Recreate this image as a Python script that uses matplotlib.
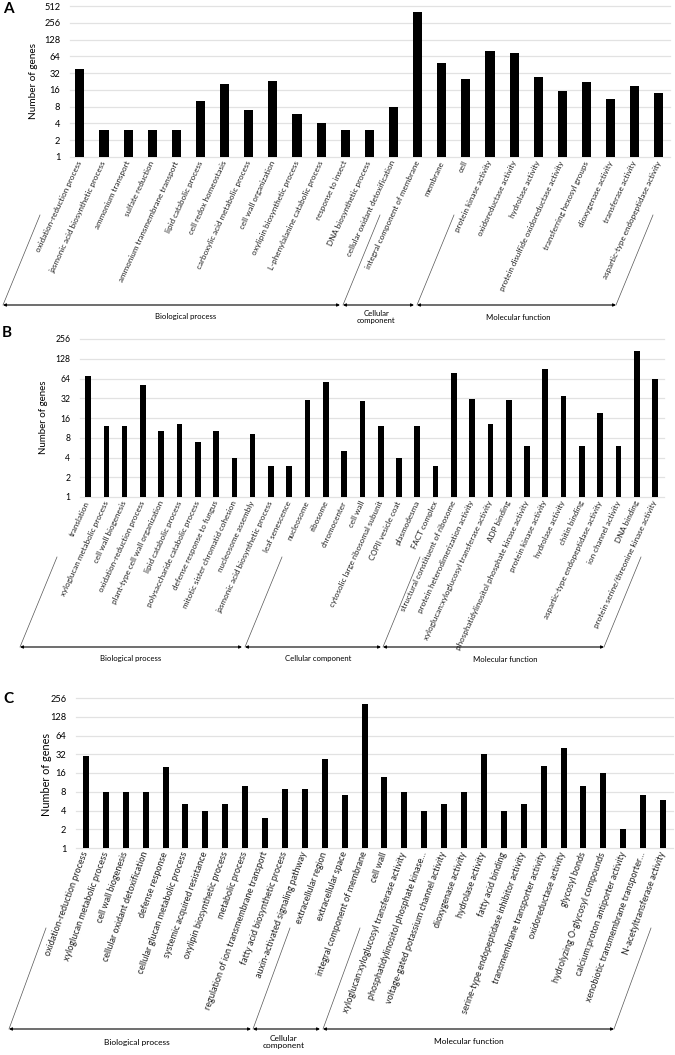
import matplotlib.pyplot as plt
import numpy as np

plt.rcParams['font.family'] = ['Lato', 'DejaVu Sans']

W, H = 675, 1055

# ---- panel A ----
labels_a = ['oxidation-reduction process', 'jasmonic acid biosynthetic process', 'ammonium transport',
            'sulfate reduction', 'ammonium transmembrane transport', 'lipid catabolic process',
            'cell redox homeostasis', 'carboxylic acid metabolic process', 'cell wall organization',
            'oxylipin biosynthetic process', 'L-phenylalanine catabolic process', 'response to insect',
            'DNA biosynthetic process', 'cellular oxidant detoxification', 'integral component of membrane',
            'membrane', 'cell', 'protein kinase activity', 'oxidoreductase activity', 'hydrolase activity',
            'protein disulfide oxidoreductase activity', 'transferring hexosyl groups', 'dioxygenase activity',
            'transferase activity', 'aspartic-type endopeptidase activity']
values_a = [38, 3, 3, 3, 3, 10, 20, 7, 23, 6, 4, 3, 3, 8, 404, 49, 25, 79, 74, 27, 15, 22, 11, 19, 14]
groups_a = ['Biological process', 'Cellular\ncomponent', 'Molecular function']
group_sizes_a = [13, 2, 10]

# ---- panel B ----
labels_b = ['translation', 'xyloglucan metabolic process', 'cell wall biogenesis', 'oxidation-reduction process',
            'plant-type cell wall organization', 'lipid catabolic process', 'polysaccharide catabolic process',
            'defense response to fungus', 'mitotic sister chromatid cohesion', 'nucleosome assembly',
            'jasmonic acid biosynthetic process', 'leaf senescence', 'nucleosome', 'ribosome', 'chromocenter',
            'cell wall', 'cytosolic large ribosomal subunit', 'COPII vesicle coat', 'plasmodesma', 'FACT complex',
            'structural constituent of ribosome', 'protein heterodimerization activity',
            'xyloglucan:xyloglucosyl transferase activity', 'ADP binding',
            'phosphatidylinositol phosphate kinase activity', 'protein kinase activity', 'hydrolase activity',
            'chitin binding', 'aspartic-type endopeptidase activity', 'ion channel activity', 'DNA binding',
            'protein serine/threonine kinase activity']
values_b = [71, 12, 12, 51, 10, 13, 7, 10, 4, 9, 3, 3, 30, 57, 5, 29, 12, 4, 12, 3,
            77, 31, 13, 30, 6, 90, 35, 6, 19, 6, 166, 62]
groups_b = ['Biological process', 'Cellular component', 'Molecular function']
group_sizes_b = [11, 9, 12]

# ---- panel C ----
labels_c = ['oxidation-reduction process', 'xyloglucan metabolic process', 'cell wall biogenesis',
            'cellular oxidant detoxification', 'defense response', 'cellular glucan metabolic process',
            'systemic acquired resistance', 'oxylipin biosynthetic process', 'metabolic process',
            'regulation of ion transmembrane transport', 'fatty acid biosynthetic process',
            'auxin-activated signaling pathway', 'extracellular region', 'extracellular space',
            'integral component of membrane', 'cell wall', 'xyloglucan:xyloglucosyl transferase activity',
            'phosphatidylinositol phosphate kinase\u2026', 'voltage-gated potassium channel activity',
            'dioxygenase activity', 'hydrolase activity', 'fatty acid binding',
            'serine-type endopeptidase inhibitor activity', 'transmembrane transporter activity',
            'oxidoreductase activity', 'glycosyl bonds', 'hydrolyzing O-glycosyl compounds',
            'calcium:proton antiporter activity', 'xenobiotic transmembrane transporter\u2026',
            'N-acetyltransferase activity']
values_c = [30, 8, 8, 8, 20, 5, 4, 5, 10, 3, 9, 9, 27, 7, 205, 14, 8, 4, 5, 8,
            32, 4, 5, 21, 40, 10, 16, 2, 7, 6]
groups_c = ['Biological process', 'Cellular\ncomponent', 'Molecular function']
group_sizes_c = [12, 3, 15]

fig = plt.figure(figsize=(W / 100, H / 100), dpi=100)


def px_axes(x0, y0, x1, y1):
    return fig.add_axes([x0 / W, 1 - y1 / H, (x1 - x0) / W, (y1 - y0) / H])


def panel(rect, labels, values, ymax, barw, xlim, xfs, rot, tfs):
    ax = px_axes(*rect)
    x = np.arange(len(values))
    ax.set_yscale('log', base=2)
    ax.bar(x, values, width=barw, color='black', zorder=3)
    ax.set_ylim(1, ymax)
    ticks = 2 ** np.arange(0, int(np.log2(ymax)) + 1)
    ax.set_yticks(ticks)
    ax.set_yticklabels([str(t) for t in ticks], fontsize=tfs)
    ax.yaxis.set_minor_locator(plt.NullLocator())
    ax.grid(axis='y', color='#e2e2e2', lw=0.9, zorder=0)
    for g in ax.get_ygridlines():
        g.set_clip_on(False)
    ax.set_xlim(*xlim)
    ax.set_xticks(x)
    ax.set_xticklabels(labels, rotation=rot, ha='right', va='center',
                       rotation_mode='anchor', fontsize=xfs, color='#222222')
    ax.tick_params(axis='x', length=0, pad=3)
    ax.tick_params(axis='y', length=0, pad=7)
    for s in ax.spines.values():
        s.set_visible(False)
    return ax


ax_a = panel((70, 6, 670, 157), labels_a, values_a, 512, 0.38, (-0.41, 24.46), 5.8, 65, 6.7)
ax_b = panel((80, 339, 664, 497), labels_b, values_b, 256, 0.31, (-0.44, 31.49), 5.8, 65, 6.2)
ax_c = panel((76, 698, 673, 848), labels_c, values_c, 256, 0.30, (-0.5, 29.5), 6.5, 70, 6.7)

ov = fig.add_axes([0, 0, 1, 1])
ov.set_xlim(0, W)
ov.set_ylim(H, 0)
ov.axis('off')

# panel letters and y labels
for letter, (lx, ly) in zip('ABC', [(3, 9), (2, 333), (3, 699)]):
    ov.text(lx, ly, letter, fontsize=11, fontweight='bold', ha='left', va='center')
for (yx, yy, fs) in [(33, 81, 7.2), (43, 417, 7.0), (47, 774, 7.8)]:
    ov.text(yx, yy, 'Number of genes', rotation=90, fontsize=fs, ha='center', va='center')


def brackets(y, spans, dx, dy, names, text_pos, fs):
    starts = [s[0] for s in spans]
    for x0 in starts + [spans[-1][1]]:
        ov.plot([x0, x0 + dx], [y, y - dy], color='#555555', lw=0.5)
    for (x0, x1) in spans:
        ov.annotate('', xy=(x1, y), xytext=(x0, y),
                    arrowprops=dict(arrowstyle='<|-|>', color='black', lw=0.8,
                                    mutation_scale=4, shrinkA=0, shrinkB=0))
    for name, (tx, ty) in zip(names, text_pos):
        ov.text(tx, ty, name, fontsize=fs, ha='center', va='center', linespacing=1.1)


brackets(305, [(3, 340), (343, 414), (417, 616)], 37, 90, groups_a,
         [(186, 317), (376, 317), (518, 317)], 5.6)
brackets(647, [(20, 242), (245, 381), (383, 604)], 37, 90, groups_b,
         [(131, 659), (318, 659), (505, 659)], 5.6)
brackets(1029, [(9, 251), (253, 320), (323, 614)], 37, 101, groups_c,
         [(137, 1042), (284, 1042), (469, 1042)], 6.0)

fig.savefig('out.png', dpi=100)
